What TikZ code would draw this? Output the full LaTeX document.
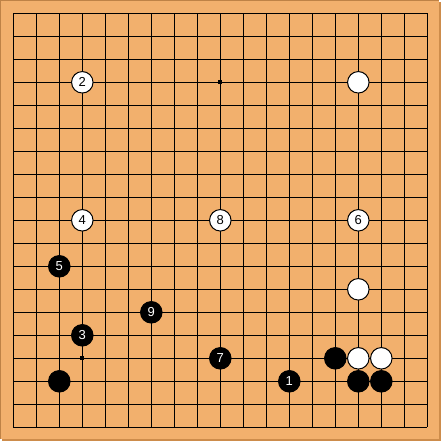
\documentclass[tikz,border=0pt]{standalone}
\usepackage{fontspec}
\setmainfont{Liberation Sans}
\definecolor{board}{RGB}{242,176,109}
\definecolor{boardedge}{RGB}{190,130,70}
\definecolor{boardshadow}{RGB}{205,140,75}
\begin{document}
\begin{tikzpicture}[x=1pt,y=-1pt,
  wstone/.style={circle,draw=black,fill=white,line width=1pt,minimum size=21.5pt,inner sep=0pt,font=\fontsize{13}{13}\selectfont,text=black},
  bstone/.style={circle,draw=black,fill=black,line width=1pt,minimum size=21.5pt,inner sep=0pt,font=\fontsize{13}{13}\selectfont,text=white},
  hoshi/.style={rectangle,fill=black,minimum size=4pt,inner sep=0pt}]
\useasboundingbox (0,0) rectangle (441,441);
\fill[boardshadow] (2,2) rectangle (441,441);
\fill[board] (0,0) rectangle (439,439);
\draw[boardedge,line width=1pt] (0.5,439) -- (0.5,0.5) -- (439,0.5);
\foreach \i in {0,...,18} {
  \draw[black,line width=1pt] ({13.3+23*\i},13.3) -- ({13.3+23*\i},427.3);
  \draw[black,line width=1pt] (13.3,{13.3+23*\i}) -- (427.3,{13.3+23*\i});
}
\foreach \c/\r [count=\k] in {3/3,9/3,15/3,3/9,9/9,15/9,3/15,9/15,15/15} {
  \node[hoshi] (h\k) at ({13.3+23*\c},{13.3+23*\r}) {};
}
% white stones
\node[wstone] (w2) at ({13.3+23*3},{13.3+23*3}) {2};
\node[wstone] (wa) at ({13.3+23*15},{13.3+23*3}) {};
\node[wstone] (w4) at ({13.3+23*3},{13.3+23*9}) {4};
\node[wstone] (w8) at ({13.3+23*9},{13.3+23*9}) {8};
\node[wstone] (w6) at ({13.3+23*15},{13.3+23*9}) {6};
\node[wstone] (wb) at ({13.3+23*15},{13.3+23*12}) {};
\node[wstone] (wc) at ({13.3+23*15},{13.3+23*15}) {};
\node[wstone] (wd) at ({13.3+23*16},{13.3+23*15}) {};
% black stones
\node[bstone] (b5) at ({13.3+23*2},{13.3+23*11}) {5};
\node[bstone] (b9) at ({13.3+23*6},{13.3+23*13}) {9};
\node[bstone] (b3) at ({13.3+23*3},{13.3+23*14}) {3};
\node[bstone] (b7) at ({13.3+23*9},{13.3+23*15}) {7};
\node[bstone] (ba) at ({13.3+23*14},{13.3+23*15}) {};
\node[bstone] (bb) at ({13.3+23*2},{13.3+23*16}) {};
\node[bstone] (b1) at ({13.3+23*12},{13.3+23*16}) {1};
\node[bstone] (bc) at ({13.3+23*15},{13.3+23*16}) {};
\node[bstone] (bd) at ({13.3+23*16},{13.3+23*16}) {};
\end{tikzpicture}
\end{document}
